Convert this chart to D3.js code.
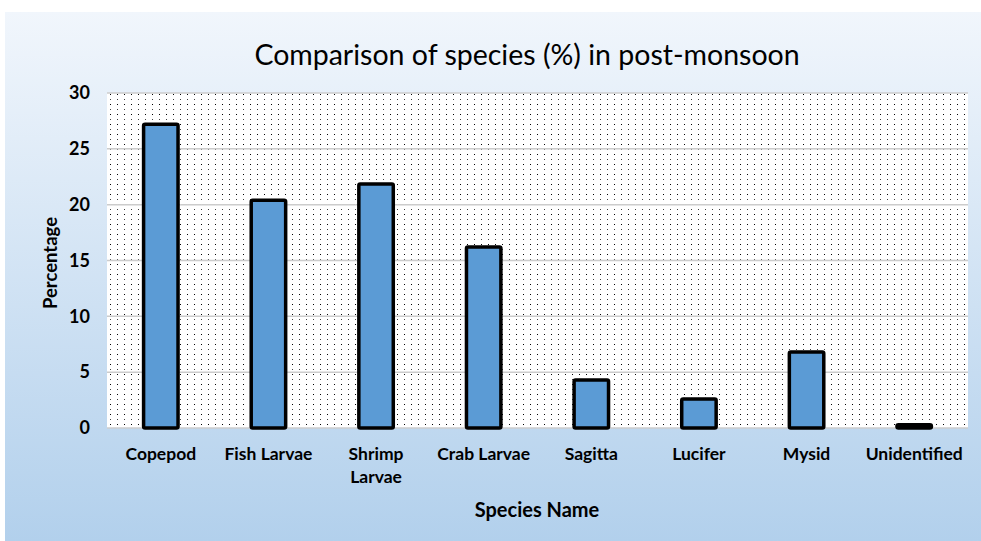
<!DOCTYPE html>
<html><head><meta charset="utf-8">
<script src="https://cdn.jsdelivr.net/npm/d3@7"></script>
<style>body{margin:0;background:#fff}svg{display:block}</style>
</head><body>
<svg id="c" width="981" height="541"></svg>
<script>
const categories = ["Copepod","Fish Larvae","Shrimp Larvae","Crab Larvae","Sagitta","Lucifer","Mysid","Unidentified"];
const values = [27.2, 20.4, 21.85, 16.2, 4.3, 2.6, 6.8, 0.3];
const yTicks = [0,5,10,15,20,25,30];
const title = "Comparison of species (%) in post-monsoon";
const xTitle = "Species Name";
const yTitle = "Percentage";

const svg = d3.select("#c");
const font = "Lato, 'Open Sans', sans-serif";
const defs = svg.append("defs");
const g = defs.append("linearGradient").attr("id","bg").attr("x1",0).attr("y1",0).attr("x2",0).attr("y2",1);
g.append("stop").attr("offset","0%").attr("stop-color","#f1f6fc");
g.append("stop").attr("offset","100%").attr("stop-color","#b2d0ec");
const p = defs.append("pattern").attr("id","dots").attr("patternUnits","userSpaceOnUse").attr("width",7).attr("height",10).attr("x",107).attr("y",93);
p.append("rect").attr("width",7).attr("height",10).attr("fill","#fff");
p.append("rect").attr("x",3).attr("y",1).attr("width",1).attr("height",1).attr("fill","#000").attr("shape-rendering","crispEdges");
p.append("rect").attr("x",3).attr("y",6).attr("width",1).attr("height",1).attr("fill","#444").attr("shape-rendering","crispEdges");

svg.append("rect").attr("x",5).attr("y",12).attr("width",976).attr("height",529).attr("fill","url(#bg)");

const m = {l:107, r:968, t:93, b:428};
const x = d3.scaleBand().domain(categories).range([m.l,m.r]).paddingInner(0.68).paddingOuter(0.34);
const y = d3.scaleLinear().domain([0,30]).range([m.b,m.t]);

svg.append("rect").attr("x",m.l).attr("y",m.t).attr("width",m.r-m.l).attr("height",m.b-m.t).attr("fill","url(#dots)");

svg.append("g").selectAll("line").data(yTicks).join("line")
  .attr("x1",m.l).attr("x2",m.r).attr("y1",d=>y(d)).attr("y2",d=>y(d))
  .attr("stroke","#cccccc").attr("stroke-width",1.5);

svg.append("g").selectAll("rect").data(values).join("rect")
  .attr("x",(d,i)=>x(categories[i]))
  .attr("y",d=>y(d))
  .attr("width",x.bandwidth())
  .attr("height",d=>y(0)-y(d))
  .attr("rx",1.5)
  .attr("fill","#5b9bd5").attr("stroke","#000").attr("stroke-width",3.5);

// y axis
const ya = svg.append("g").attr("transform",`translate(${m.l},0)`)
  .call(d3.axisLeft(y).tickValues(yTicks).tickSize(0).tickPadding(17));
ya.select(".domain").remove();
ya.selectAll("text").attr("font-family",font).attr("font-size",18).attr("font-weight","bold").attr("fill","#000");

// x axis
const xa = svg.append("g").attr("transform",`translate(0,${m.b})`)
  .call(d3.axisBottom(x).tickSize(0).tickPadding(0));
xa.select(".domain").remove();
xa.selectAll("text").attr("font-family",font).attr("font-size",17.5).attr("font-weight","bold").attr("fill","#000")
  .each(function(d){
    const t = d3.select(this); t.text(null).attr("y",0).attr("dy",null);
    const lines = d==="Shrimp Larvae" ? ["Shrimp","Larvae"] : [d];
    lines.forEach((s,i)=>t.append("tspan").attr("x",0).attr("y",32+i*23).text(s));
  });

svg.append("text").attr("x",527).attr("y",65).attr("text-anchor","middle")
  .attr("font-family",font).attr("font-size",28.5).attr("fill","#000").text(title);
svg.append("text").attr("x",537).attr("y",517).attr("text-anchor","middle")
  .attr("font-family",font).attr("font-size",20).attr("font-weight","bold").attr("fill","#000").text(xTitle);
svg.append("text").attr("transform","translate(57,263) rotate(-90)").attr("text-anchor","middle")
  .attr("font-family",font).attr("font-size",18.5).attr("font-weight","bold").attr("fill","#000").text(yTitle);
</script>
</body></html>
